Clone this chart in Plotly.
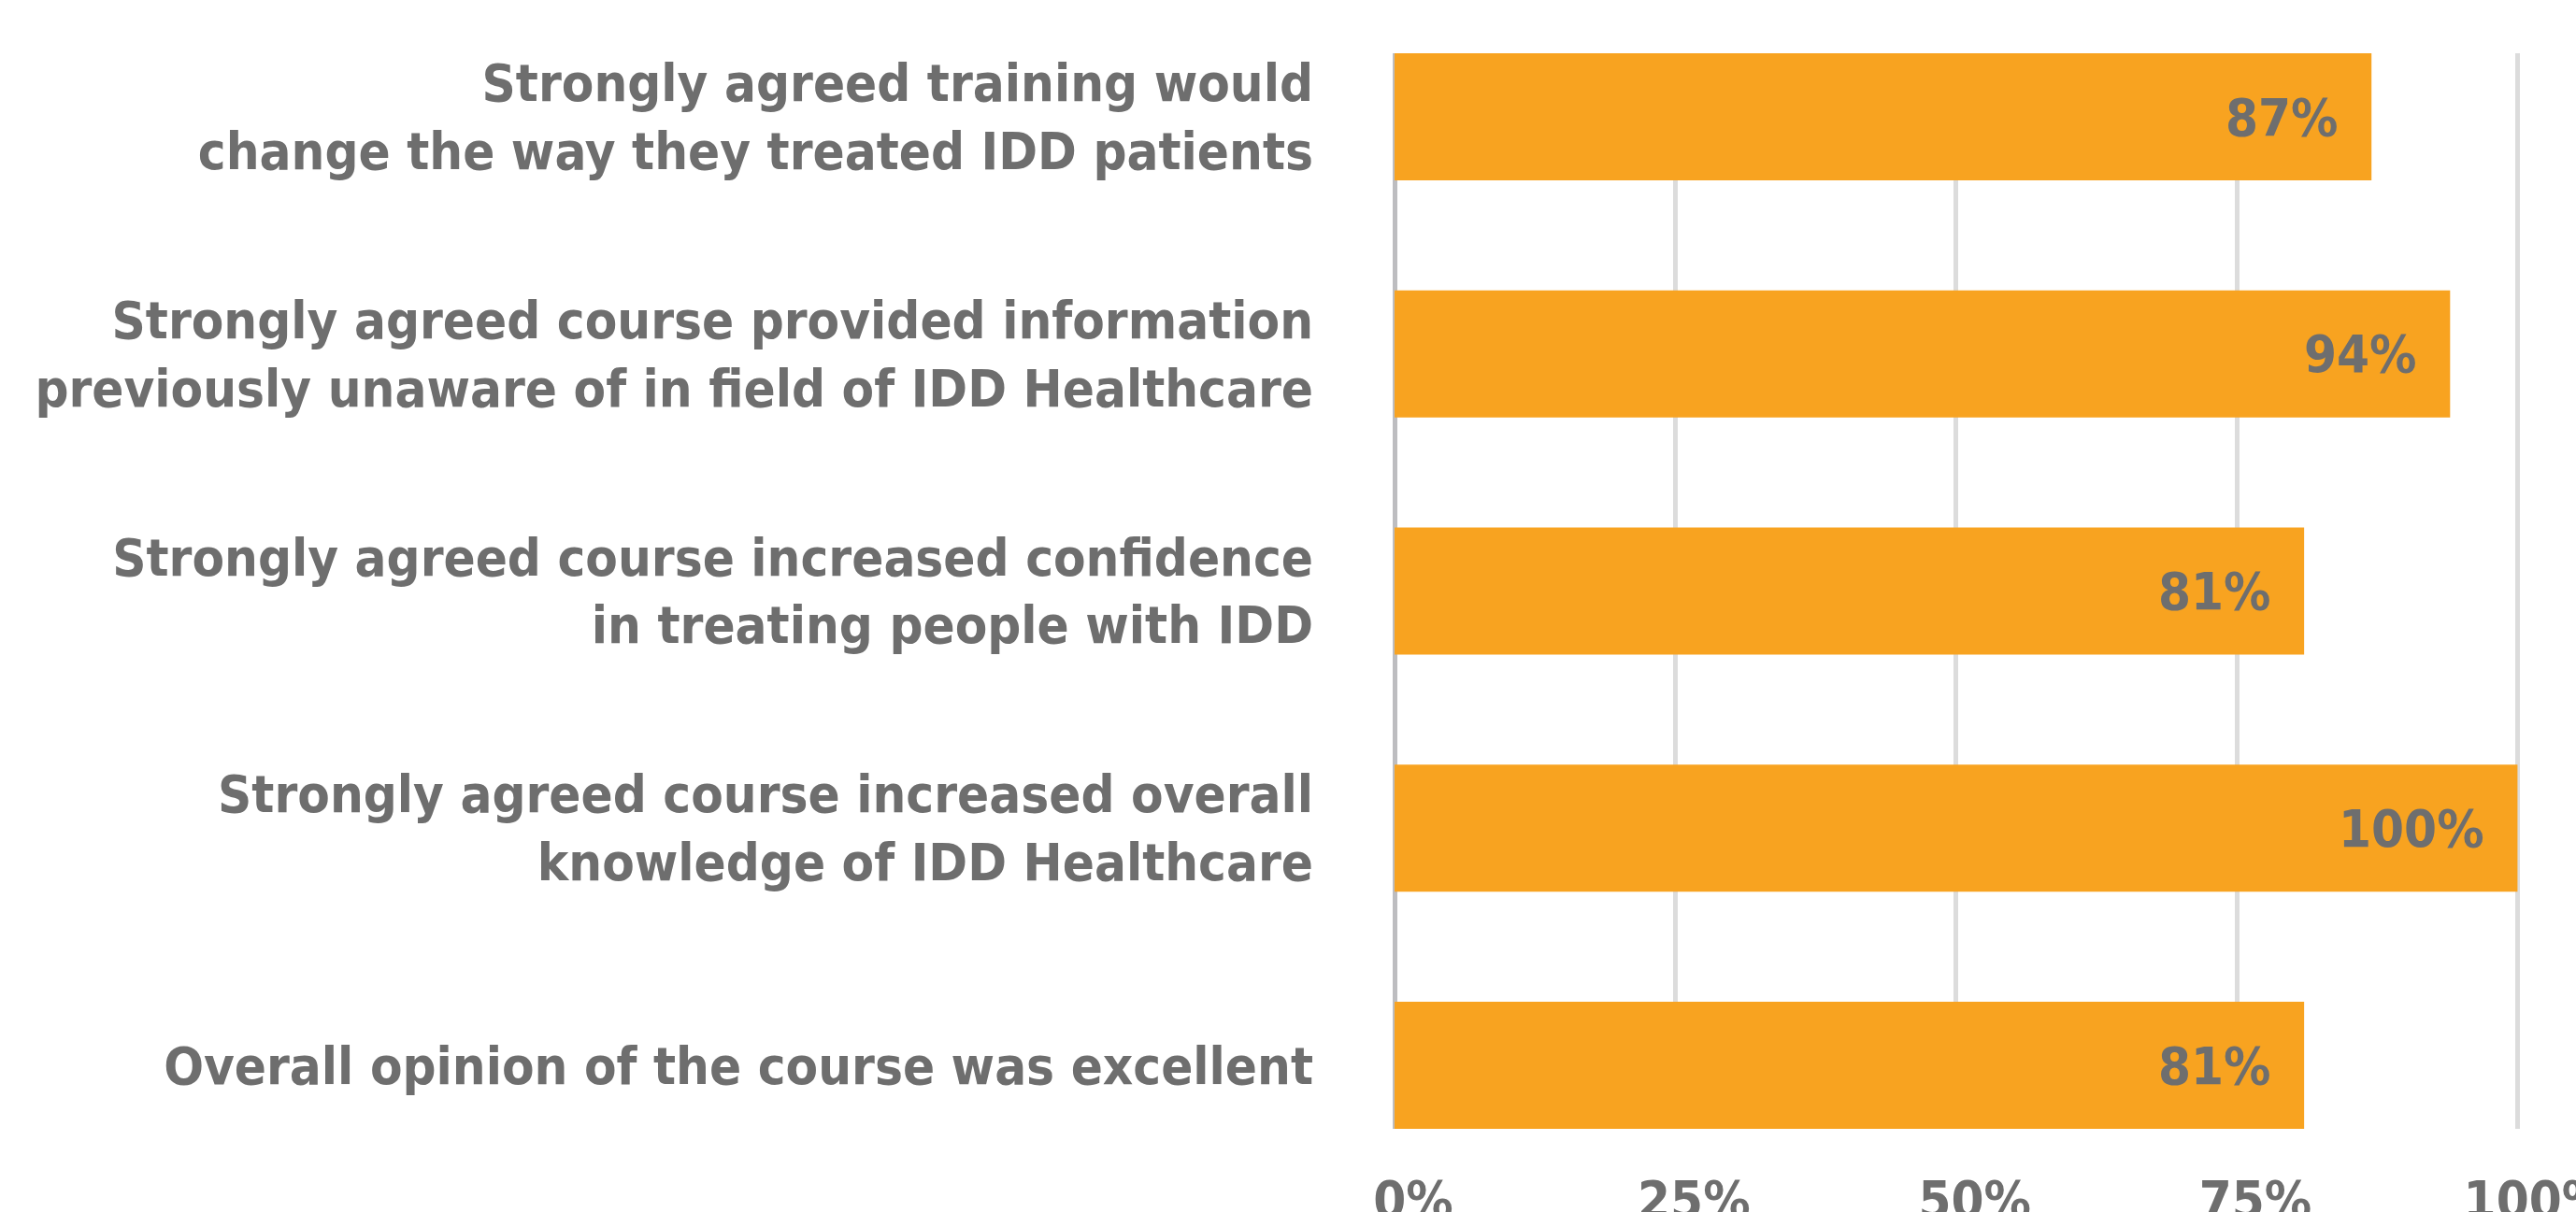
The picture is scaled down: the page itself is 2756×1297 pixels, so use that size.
import plotly.graph_objects as go

categories = [
    "Strongly agreed training would<br>change the way they treated IDD patients",
    "Strongly agreed course provided information<br>previously unaware of in field of IDD Healthcare",
    "Strongly agreed course increased confidence<br>in treating people with IDD",
    "Strongly agreed course increased overall<br>knowledge of IDD Healthcare",
    "Overall opinion of the course was excellent",
]
values = [87, 94, 81, 100, 81]
value_labels = ["87%", "94%", "81%", "100%", "81%"]
tick_values = [0, 25, 50, 75, 100]
tick_labels = ["0%", "25%", "50%", "75%", "100%"]

FONT = "DejaVu Sans Condensed, DejaVu Sans, sans-serif"
GRAY = "#6E6E6E"
ORANGE = "#F8A320"
BAR_W = 0.536

fig = go.Figure()
fig.add_trace(go.Bar(
    x=values, y=categories, orientation="h",
    marker=dict(color=ORANGE, line=dict(width=0)),
    width=BAR_W, hoverinfo="skip",
))

for v, c, t in zip(values, categories, value_labels):
    fig.add_annotation(
        x=v, y=c, text=f"<b>{t}</b>", showarrow=False,
        xanchor="right", yanchor="middle", xshift=-33,
        font=dict(family=FONT, size=56, color=GRAY),
    )

fig.update_layout(
    width=2756, height=1297,
    margin=dict(l=1492, r=59, t=57, b=89),
    paper_bgcolor="white", plot_bgcolor="white",
    showlegend=False,
    font=dict(family=FONT, size=56, color=GRAY),
)
fig.update_xaxes(
    range=[0, 100.3], tickvals=tick_values,
    ticktext=[f"<b>{t}</b>" for t in tick_labels],
    showgrid=True, gridcolor="#DCDCDC", gridwidth=5,
    zeroline=True, zerolinecolor="#BDBDC0", zerolinewidth=5,
    showline=False, ticks="", ticklabelstandoff=38, ticklabelshift=20,
    ticklabeloverflow="allow",
    automargin=False, tickfont=dict(family=FONT, size=56, color=GRAY),
)
fig.update_yaxes(
    type="category", categoryorder="array", categoryarray=categories,
    range=[len(categories) - 1 + BAR_W / 2, -BAR_W / 2],
    tickvals=categories,
    ticktext=[f"<b>{c.replace('<br>', '</b><br><b>')}</b>" for c in categories],
    showgrid=False, zeroline=False, showline=False, ticks="",
    ticklabelstandoff=86, automargin=False,
    tickfont=dict(family=FONT, size=56, color=GRAY),
)

fig.write_html("out.html")
